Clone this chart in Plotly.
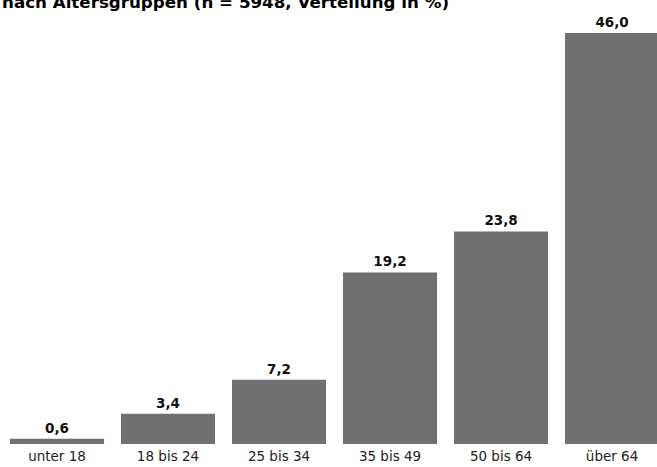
import plotly.graph_objects as go

categories = ["unter 18", "18 bis 24", "25 bis 34", "35 bis 49", "50 bis 64", "über 64"]
values = [0.6, 3.4, 7.2, 19.2, 23.8, 46.0]
title_text = "nach Altersgruppen (n = 5948, Verteilung in %)"

labels = [f"{v:.1f}".replace(".", ",") for v in values]

fig = go.Figure(go.Bar(
    x=list(range(len(categories))),
    y=values,
    text=labels,
    textposition="outside",
    textfont=dict(family="DejaVu Sans, sans-serif", size=13.5, color="#111111", weight="bold"),
    marker=dict(color="#707072", line=dict(width=0)),
    cliponaxis=False,
))

fig.update_layout(
    width=657, height=467,
    margin=dict(l=0, r=0, t=0, b=23),
    paper_bgcolor="white", plot_bgcolor="white",
    bargap=0.153,
    showlegend=False,
    xaxis=dict(
        range=[-0.5135, 5.405],
        tickvals=list(range(len(categories))),
        ticktext=categories,
        showgrid=False, zeroline=False, showline=False, ticks="",
        ticklabelstandoff=2,
        tickfont=dict(family="DejaVu Sans, sans-serif", size=13.5, color="#222222"),
        fixedrange=True,
    ),
    yaxis=dict(range=[0, 49.7], visible=False, fixedrange=True),
    annotations=[dict(
        text=f"<b>{title_text}</b>",
        xref="paper", yref="paper", x=0, y=1, xanchor="left", yanchor="bottom",
        yshift=-14, showarrow=False,
        font=dict(family="DejaVu Sans, sans-serif", size=16.7, color="#000000"),
    )],
)

fig.write_html("out.html")
